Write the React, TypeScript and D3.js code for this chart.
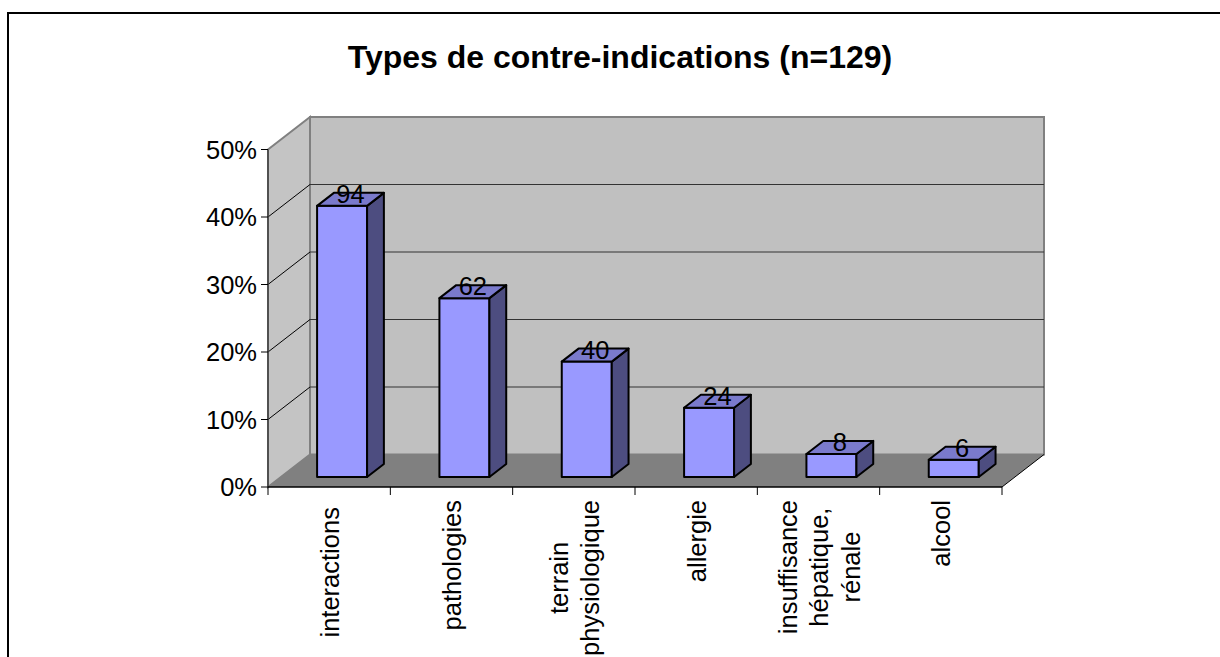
import React, { useEffect, useRef } from "react";
import * as d3 from "d3";

const title = "Types de contre-indications (n=129)";
const categories: string[][] = [
  ["interactions "],
  ["pathologies"],
  ["terrain", "physiologique"],
  ["allergie"],
  ["insuffisance", "hépatique,", "rénale"],
  ["alcool"],
];
const counts = [94, 62, 40, 24, 8, 6];
const yTicks = [0, 0.1, 0.2, 0.3, 0.4, 0.5];

const FONT = "'Liberation Sans', Arial, Helvetica, sans-serif";

export default function App() {
  const ref = useRef<SVGSVGElement>(null);

  useEffect(() => {
    const svg = d3.select(ref.current);
    svg.selectAll("*").remove();

    const total = d3.sum(counts);
    const pct = counts.map((c) => c / total);

    const fx0 = 268, fx1 = 1002;
    const DX = 42, DY = -32.5;
    const x = d3.scaleBand<number>().domain(d3.range(categories.length)).range([fx0, fx1]);
    const y = d3.scaleLinear().domain([0, 0.5]).range([487, 149.5]);
    const y0 = y(0), yTop = y(0.5);

    // outer border
    svg.append("rect").attr("x", 8).attr("y", 13).attr("width", 1240).attr("height", 700)
      .attr("fill", "#fff").attr("stroke", "#000").attr("stroke-width", 2);

    // title
    svg.append("text").attr("x", 620).attr("y", 68).attr("text-anchor", "middle")
      .attr("font-family", FONT).attr("font-weight", "bold").attr("font-size", 32)
      .attr("fill", "#000").text(title);

    const pts = (a: number[][]) => a.map((p) => p.join(",")).join(" ");

    // back wall
    svg.append("polygon")
      .attr("points", pts([[fx0 + DX, yTop + DY], [fx1 + DX, yTop + DY], [fx1 + DX, y0 + DY], [fx0 + DX, y0 + DY]]))
      .attr("fill", "#c0c0c0").attr("stroke", "#808080").attr("stroke-width", 2);
    // side wall
    svg.append("polygon")
      .attr("points", pts([[fx0, yTop], [fx0 + DX, yTop + DY], [fx0 + DX, y0 + DY], [fx0, y0]]))
      .attr("fill", "#c4c4c4").attr("stroke", "#808080").attr("stroke-width", 2);
    // floor
    svg.append("polygon")
      .attr("points", pts([[fx0, y0], [fx1, y0], [fx1 + DX, y0 + DY], [fx0 + DX, y0 + DY]]))
      .attr("fill", "#808080").attr("stroke", "none");
    svg.append("line").attr("x1", fx1).attr("y1", y0).attr("x2", fx1 + DX).attr("y2", y0 + DY)
      .attr("stroke", "#000").attr("stroke-width", 1);

    // gridlines
    yTicks.filter((t) => t > 0 && t < 0.5).forEach((t) => {
      svg.append("line").attr("x1", fx0 + DX).attr("x2", fx1 + DX).attr("y1", y(t) + DY).attr("y2", y(t) + DY)
        .attr("stroke", "#333").attr("stroke-width", 1);
      svg.append("line").attr("x1", fx0).attr("y1", y(t)).attr("x2", fx0 + DX).attr("y2", y(t) + DY)
        .attr("stroke", "#000").attr("stroke-width", 1);
    });

    // y axis
    svg.append("line").attr("x1", fx0).attr("x2", fx0).attr("y1", yTop).attr("y2", y0)
      .attr("stroke", "#404040").attr("stroke-width", 1.5);
    yTicks.forEach((t) => {
      svg.append("line").attr("x1", fx0 - 7).attr("x2", fx0).attr("y1", y(t)).attr("y2", y(t))
        .attr("stroke", "#000").attr("stroke-width", 1);
      svg.append("text").attr("x", 257).attr("y", y(t) + 9).attr("text-anchor", "end")
        .attr("font-family", FONT).attr("font-size", 25.5).attr("fill", "#000")
        .text(d3.format(".0%")(t));
    });

    // x axis
    svg.append("line").attr("x1", fx0).attr("x2", fx1).attr("y1", y0).attr("y2", y0)
      .attr("stroke", "#000").attr("stroke-width", 1.5);
    d3.range(categories.length + 1).forEach((i) => {
      const xx = fx0 + i * x.step();
      svg.append("line").attr("x1", xx).attr("x2", xx).attr("y1", y0).attr("y2", y0 + 8)
        .attr("stroke", "#000").attr("stroke-width", 1);
    });

    // bars
    const t0 = 10 / 32.5, td = 13 / 32.5, bw = 50;
    counts.forEach((c, i) => {
      const cx = (x(i) as number) + x.bandwidth() / 2 + t0 * DX;
      const bx0 = cx - bw / 2, bx1 = cx + bw / 2;
      const yb = y(0) + t0 * DY;
      const yt = y(pct[i]) + t0 * DY;
      const ddx = td * DX, ddy = td * DY;
      const g = svg.append("g").attr("stroke", "#000").attr("stroke-width", 2).attr("stroke-linejoin", "round");
      g.append("polygon").attr("points", pts([[bx0, yt], [bx1, yt], [bx1, yb], [bx0, yb]])).attr("fill", "#9999ff");
      g.append("polygon").attr("points", pts([[bx1, yt], [bx1 + ddx, yt + ddy], [bx1 + ddx, yb + ddy], [bx1, yb]])).attr("fill", "#4d4d80");
      g.append("polygon").attr("points", pts([[bx0, yt], [bx0 + ddx, yt + ddy], [bx1 + ddx, yt + ddy], [bx1, yt]])).attr("fill", "#7a7acc");
      svg.append("text").attr("x", cx + ddx / 2).attr("y", yt - 3).attr("text-anchor", "middle")
        .attr("font-family", FONT).attr("font-size", 25.5).attr("fill", "#000").text(String(c));
    });

    // category labels (rotated)
    const lh = 31.5;
    categories.forEach((lines, i) => {
      const cxc = (x(i) as number) + x.bandwidth() / 2;
      const g = svg.append("g");
      const texts = lines.map((ln) =>
        g.append("text").attr("text-anchor", "middle").attr("font-family", FONT)
          .attr("font-size", 25.5).attr("fill", "#000").style("white-space", "pre").text(ln)
      );
      const L = d3.max(texts.map((t) => (t.node() as SVGTextElement).getComputedTextLength())) || 0;
      const n = lines.length;
      texts.forEach((t, j) => {
        const bx = cxc + 9.5 + (j - (n - 1) / 2) * lh;
        t.attr("transform", `translate(${bx},${500 + L / 2}) rotate(-90)`);
      });
    });
  }, []);

  return (
    <svg ref={ref} width={1220} height={657}
      style={{ position: "absolute", left: 0, top: 0, background: "#fff" }} />
  );
}
